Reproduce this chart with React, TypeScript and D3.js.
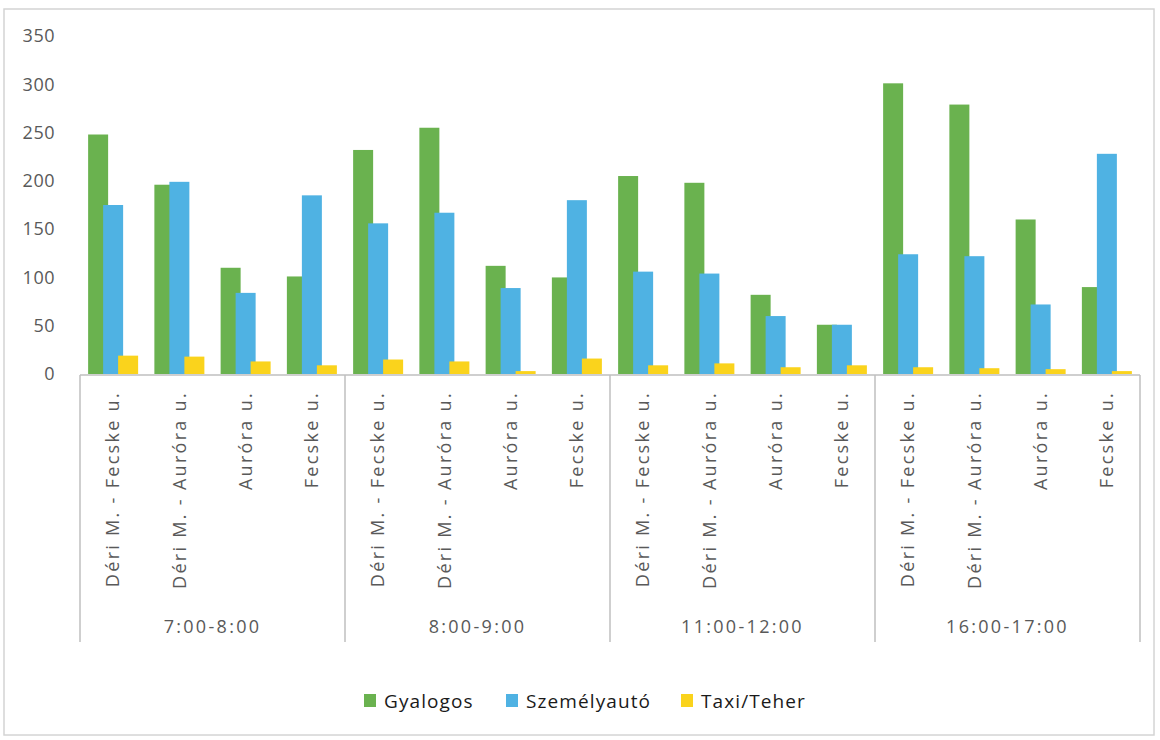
import React from "react";
import * as d3 from "d3";

const groups = ["7:00-8:00", "8:00-9:00", "11:00-12:00", "16:00-17:00"];
const places = ["Déri M. - Fecske u.", "Déri M. - Auróra u.", "Auróra u.", "Fecske u."];

const series = ["Gyalogos", "Személyautó", "Taxi/Teher"];
const colors = ["#6ab24f", "#4fb2e3", "#fad31c"];

// values per category, in group order (4 groups x 4 places)
const gyalogos = [248, 196, 110, 101, 232, 255, 112, 100, 205, 198, 82, 51, 301, 279, 160, 90];
const szemelyauto = [175, 199, 84, 185, 156, 167, 89, 180, 106, 104, 60, 51, 124, 122, 72, 228];
const taxiTeher = [19, 18, 13, 9, 15, 13, 3, 16, 9, 11, 7, 9, 7, 6, 5, 3];

const yTicks = [0, 50, 100, 150, 200, 250, 300, 350];

const W = 1160;
const H = 740;
const left = 80;
const right = 1140;
const top = 36;
const base = 374;
const axisBottom = 642;

const font = "'Open Sans', Lato, sans-serif";

export default function App() {
  const cats = groups.flatMap((g) => places.map((p) => `${g}|${p}`));
  const values = [gyalogos, szemelyauto, taxiTeher];

  const x = d3.scaleBand<string>().domain(cats).range([left, right]).padding(0);
  const y = d3.scaleLinear().domain([0, 350]).range([base, top]);

  const barW = 20;
  const step = 15;
  const span = step * (series.length - 1) + barW;

  const groupW = x.bandwidth() * places.length;

  return (
    <svg
      width={W}
      height={H}
      style={{ position: "absolute", left: 0, top: 0, background: "#fff" }}
    >
      <rect x={4} y={9} width={W - 10} height={H - 14} fill="#fff" stroke="#d4d4d4" strokeWidth={1.5} />

      {/* y labels */}
      {yTicks.map((t) => (
        <text
          key={t}
          x={55}
          y={y(t)}
          dy="0.35em"
          textAnchor="end"
          fontFamily={font}
          fontSize={18}
          letterSpacing={0.5}
          fill="#595959"
        >
          {t}
        </text>
      ))}

      {/* bars */}
      {series.map((s, si) =>
        cats.map((c, ci) => {
          const cx = (x(c) as number) + x.bandwidth() / 2;
          const bx = cx - span / 2 + si * step;
          const v = values[si][ci];
          return (
            <rect
              key={s + c}
              x={bx}
              y={y(v)}
              width={barW}
              height={base - y(v)}
              fill={colors[si]}
            />
          );
        })
      )}

      {/* category axis */}
      <line x1={left} x2={right} y1={base + 1} y2={base + 1} stroke="#bfbfbf" strokeWidth={1.5} />
      {d3.range(groups.length + 1).map((i) => (
        <line
          key={i}
          x1={left + i * groupW}
          x2={left + i * groupW}
          y1={base + 1}
          y2={axisBottom}
          stroke="#bfbfbf"
          strokeWidth={1.5}
        />
      ))}

      {cats.map((c, ci) => {
        const cx = (x(c) as number) + x.bandwidth() / 2;
        return (
          <text
            key={c}
            transform={`translate(${cx},391) rotate(-90)`}
            textAnchor="end"
            dy="0.35em"
            fontFamily={font}
            fontSize={18}
            letterSpacing={2.3}
            fill="#595959"
          >
            {places[ci % places.length]}
          </text>
        );
      })}

      {groups.map((g, gi) => (
        <text
          key={g}
          x={left + gi * groupW + groupW / 2}
          y={627}
          dy="0.35em"
          textAnchor="middle"
          fontFamily={font}
          fontSize={18}
          letterSpacing={2.3}
          fill="#595959"
        >
          {g}
        </text>
      ))}

      {/* legend */}
      {series.map((s, si) => {
        const lx = [364, 506, 681][si];
        return (
          <g key={s} transform={`translate(${lx},694)`}>
            <rect x={0} y={0} width={12} height={13} fill={colors[si]} />
            <text x={20} y={7} dy="0.35em" fontFamily={font} fontSize={19} letterSpacing={1.1} fill="#1a1a1a">
              {s}
            </text>
          </g>
        );
      })}
    </svg>
  );
}
